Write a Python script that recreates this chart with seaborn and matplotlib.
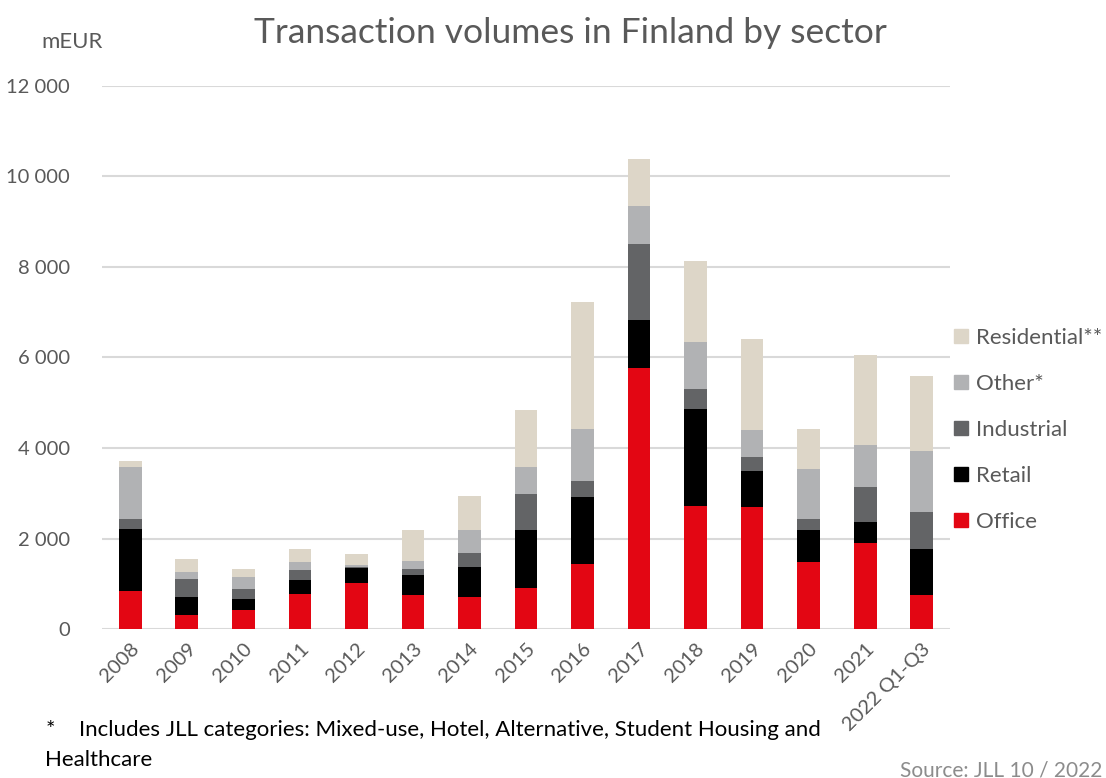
import numpy as np
import pandas as pd
import seaborn as sns
import matplotlib.pyplot as plt
from matplotlib.lines import Line2D

years = ['2008', '2009', '2010', '2011', '2012', '2013', '2014', '2015',
         '2016', '2017', '2018', '2019', '2020', '2021', '2022 Q1-Q3']
office = [830, 316, 411, 780, 1008, 751, 714, 905, 1428, 5762, 2722, 2686, 1486, 1892, 757]
retail = [1380, 398, 243, 310, 340, 442, 647, 1287, 1493, 1059, 2141, 795, 699, 477, 1016]
industrial = [230, 391, 221, 220, 20, 140, 325, 788, 346, 1678, 435, 331, 243, 766, 817]
other = [1150, 161, 265, 177, 40, 176, 508, 603, 1148, 839, 1038, 596, 1104, 927, 1339]
residential = [130, 281, 177, 288, 258, 670, 752, 1258, 2810, 1052, 1803, 1994, 898, 2002, 1656]

sectors = ['Office', 'Retail', 'Industrial', 'Other*', 'Residential**']
colors = ['#e30613', '#000000', '#636466', '#b1b2b4', '#ddd6c8']
text_col = '#595959'

df = pd.DataFrame({'year': years, 'Office': office, 'Retail': retail,
                   'Industrial': industrial, 'Other*': other,
                   'Residential**': residential})
cum = df[sectors].cumsum(axis=1)

sns.set_style('white')
plt.rcParams['font.family'] = ['Lato', 'DejaVu Sans']

fig = plt.figure(figsize=(11.06, 7.78), dpi=100)
ax = fig.add_axes([0.0922, 0.1915, 0.7668, 0.698])

# stacked bars: draw cumulative totals from the top layer down
for s, c in zip(sectors[::-1], colors[::-1]):
    sns.barplot(x=df['year'], y=cum[s], color=c, width=0.4, ax=ax,
                saturation=1, linewidth=0)

ax.set_ylim(0, 12000)
ax.set_xlim(-0.5, len(years) - 0.5)
ax.set_yticks(np.arange(0, 12001, 2000))
ax.set_yticklabels([f'{v:,}'.replace(',', ' ') for v in range(0, 12001, 2000)])
ax.yaxis.grid(True, color='#d9d9d9', linewidth=1.5)
ax.set_axisbelow(True)
for sp in ax.spines.values():
    sp.set_visible(False)
ax.set_xlabel('')
ax.set_ylabel('')
ax.tick_params(axis='both', length=0, labelsize=14.5, labelcolor=text_col)
ax.tick_params(axis='y', pad=23)
plt.setp(ax.get_xticklabels(), rotation=45, ha='right', rotation_mode='anchor')
ax.tick_params(axis='x', pad=8)

handles = [Line2D([], [], marker='s', linestyle='', markersize=10,
                  markerfacecolor=c, markeredgecolor=c)
           for c in colors[::-1]]
leg = fig.legend(handles, sectors[::-1], loc='upper left',
                 bbox_to_anchor=(0.854, 0.5895), frameon=False, fontsize=16,
                 handlelength=0.7, handletextpad=0.3, labelspacing=1.17,
                 borderaxespad=0)
for t in leg.get_texts():
    t.set_color(text_col)

fig.text(0.516, 0.958, 'Transaction volumes in Finland by sector',
         ha='center', va='center', fontsize=25.5, color=text_col)
fig.text(0.065, 0.946, 'mEUR', ha='center', va='center', fontsize=16, color=text_col)

fig.text(0.041, 0.062, '*', ha='left', va='center', fontsize=16, color='#000000')
fig.text(0.071, 0.062,
         'Includes JLL categories: Mixed-use, Hotel, Alternative, Student Housing and',
         ha='left', va='center', fontsize=16, color='#000000')
fig.text(0.041, 0.023, 'Healthcare', ha='left', va='center', fontsize=16, color='#000000')
fig.text(0.997, 0.01, 'Source: JLL 10 / 2022', ha='right', va='center',
         fontsize=15, color='#8c8c8c')

fig.savefig('out.png', dpi=100)
